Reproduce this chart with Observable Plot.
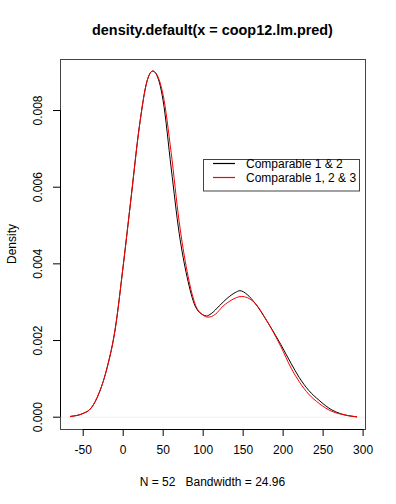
<!DOCTYPE html>
<html>
<head>
<meta charset="utf-8">
<script src="https://cdn.jsdelivr.net/npm/d3@7"></script>
<script src="https://cdn.jsdelivr.net/npm/@observablehq/plot@0.6"></script>
<style>
  html, body { margin: 0; padding: 0; background: #fff; }
  svg { font-family: "Liberation Sans", Arial, Helvetica, sans-serif; }
</style>
</head>
<body>
<div id="chart"></div>
<script>
// Series 1: "Comparable 1 & 2" (black)
const xBlack = [-66, -50, -40, -30, -20, -10, 0, 10, 20, 30, 37, 45, 50, 60, 70, 80, 90, 100, 104, 110, 120, 130, 140, 146, 155, 165, 180, 197, 210, 220, 232, 245, 260, 272, 292];
const yBlack = [0.00002, 0.0001, 0.00024, 0.00064, 0.0013, 0.0023, 0.00395, 0.00575, 0.00755, 0.00878, 0.00903, 0.00875, 0.00825, 0.0065, 0.0048, 0.00365, 0.0029, 0.00267, 0.00264, 0.0027, 0.0029, 0.0031, 0.00325, 0.0033, 0.0032, 0.00297, 0.0025, 0.0019, 0.0014, 0.00104, 0.0007, 0.00044, 0.0002, 0.00009, 0.00001];
// Series 2: "Comparable 1, 2 & 3" (red)
const xRed = [-66, -50, -40, -30, -20, -10, 0, 10, 20, 30, 37, 45, 50, 60, 70, 80, 90, 100, 106, 115, 125, 135, 148, 155, 165, 180, 197, 210, 220, 232, 245, 260, 272, 292];
const yRed = [0.00002, 0.0001, 0.00024, 0.00064, 0.0013, 0.0023, 0.00395, 0.00575, 0.00755, 0.00878, 0.00903, 0.0088, 0.0084, 0.0069, 0.0051, 0.0038, 0.00295, 0.00266, 0.00261, 0.00268, 0.0029, 0.00305, 0.00315, 0.00312, 0.00297, 0.0025, 0.00185, 0.00128, 0.00093, 0.0006, 0.00036, 0.00016, 0.00008, 0.00001];

const seriesNames = ["Comparable 1 & 2", "Comparable 1, 2 & 3"];
const seriesColors = ["black", "red"];
const xTicks = [-50, 0, 50, 100, 150, 200, 250, 300];
const yTicks = [0, 0.002, 0.004, 0.006, 0.008];
const titleText = "density.default(x = coop12.lm.pred)";
const xLabelText = "N = 52   Bandwidth = 24.96";
const yLabelText = "Density";

const xDomain = [-78.4, 303];
const yDomain = [-0.000321, 0.009331];

const black = xBlack.map((x, i) => ({x, y: yBlack[i]}));
const red = xRed.map((x, i) => ({x, y: yRed[i]}));

const W = 396, H = 504;
const mL = 60, mR = 31, mT = 59, mB = 75;

const plot = Plot.plot({
  width: W,
  height: H,
  marginLeft: mL,
  marginRight: mR,
  marginTop: mT,
  marginBottom: mB,
  style: {fontFamily: '"Liberation Sans", Arial, Helvetica, sans-serif', fontSize: "12px", background: "white", color: "black"},
  x: {domain: xDomain},
  y: {domain: yDomain},
  marks: [
    Plot.ruleY([0], {stroke: "#e6e6e6", strokeWidth: 0.6}),
    Plot.line(black, {x: "x", y: "y", stroke: seriesColors[0], strokeWidth: 1, curve: "monotone-x"}),
    Plot.line(red, {x: "x", y: "y", stroke: seriesColors[1], strokeWidth: 1, curve: "monotone-x"}),
    Plot.frame({stroke: "#444", strokeWidth: 1}),
    // x axis
    Plot.ruleY([yDomain[0]], {x1: xTicks[0], x2: xTicks[xTicks.length - 1], stroke: "black"}),
    Plot.axisX({ticks: xTicks, tickSize: 7, tickPadding: 9, fontSize: 12, label: null, tickFormat: d => d < 0 ? "-" + Math.abs(d) : String(d)}),
    // y axis
    Plot.ruleX([xDomain[0]], {y1: yTicks[0], y2: yTicks[yTicks.length - 1], stroke: "black"}),
    Plot.axisY({ticks: yTicks, tickSize: 7, label: null, tickFormat: () => ""}),
    Plot.text(yTicks, {y: d => d, text: d => d.toFixed(3), frameAnchor: "left", dx: -22, rotate: -90, textAnchor: "middle", fontSize: 12, fill: "black"})
  ]
});

const svg = d3.select(plot);
// Title
svg.append("text").attr("x", (mL + W - mR) / 2).attr("y", 34.5)
  .attr("text-anchor", "middle").attr("font-weight", "bold").attr("font-size", 14.4)
  .attr("fill", "black").text(titleText);
// X label
svg.append("text").attr("x", (mL + W - mR) / 2).attr("y", 486)
  .attr("text-anchor", "middle").attr("font-size", 12).attr("fill", "black").text(xLabelText);
// Y label
svg.append("text").attr("transform", `translate(16,${(mT + H - mB) / 2}) rotate(-90)`)
  .attr("text-anchor", "middle").attr("font-size", 12).attr("fill", "black").text(yLabelText);
// Legend
const lg = svg.append("g").attr("text-anchor", "start");
lg.append("rect").attr("x", 203.5).attr("y", 159.5).attr("width", 156).attr("height", 31.5)
  .attr("fill", "white").attr("stroke", "#444");
seriesNames.forEach((name, i) => {
  const yy = 163.5 + i * 14;
  lg.append("line").attr("x1", 213).attr("x2", 235).attr("y1", yy).attr("y2", yy)
    .attr("stroke", seriesColors[i]).attr("stroke-width", 1.2);
  lg.append("text").attr("x", 246).attr("y", yy + 4.2).attr("text-anchor", "start")
    .attr("font-size", 12).attr("fill", "black").text(name);
});

document.getElementById("chart").appendChild(plot);
</script>
</body>
</html>
